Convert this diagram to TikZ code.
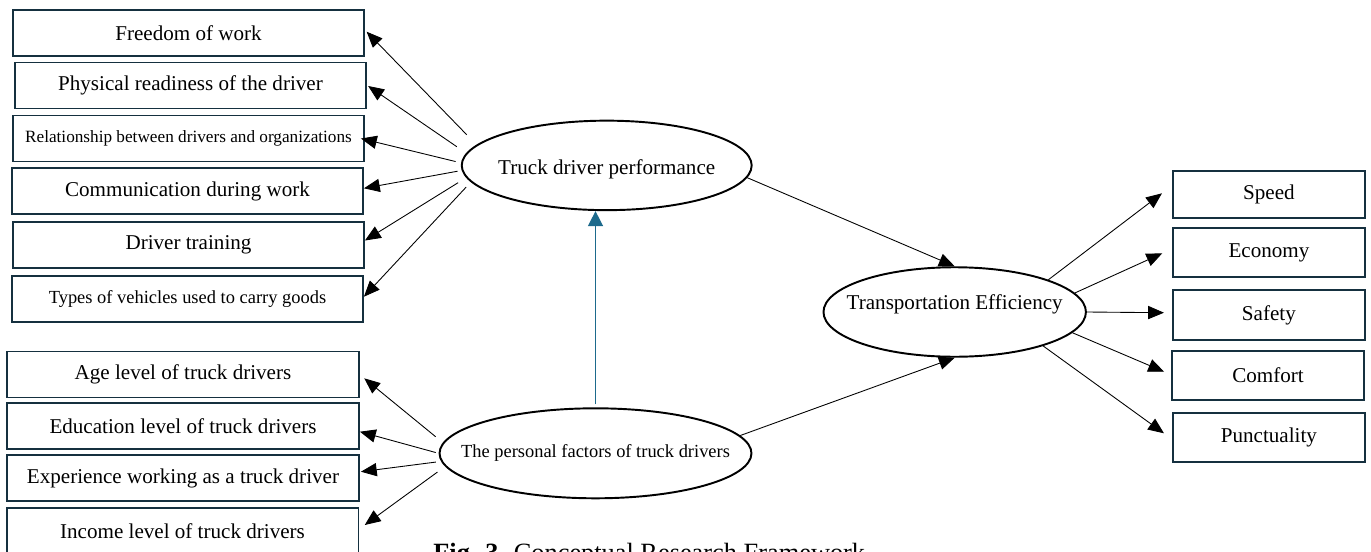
\documentclass[tikz,border=0pt]{standalone}
\usepackage{fontspec}
\setmainfont{Liberation Serif}
\usetikzlibrary{shapes.geometric,arrows.meta,calc}
\definecolor{boxc}{HTML}{15303F}
\definecolor{midc}{HTML}{1D6A8C}
\begin{document}
\begin{tikzpicture}[x=0.02cm,y=-0.02cm,
  twelve/.style={font=\fontsize{12}{14}\selectfont},
  lbox/.style={draw=boxc,line width=1.1pt,minimum width=7.02cm,minimum height=0.92cm,inner sep=0pt,twelve},
  rbox/.style={draw=boxc,line width=1.1pt,minimum width=3.84cm,minimum height=0.99cm,inner sep=0pt,twelve},
  ell/.style={draw,ellipse,line width=1.1pt,inner sep=0pt},
  arr/.style={-{Triangle[length=9pt,width=7.5pt]},line width=0.5pt},
  marr/.style={-{Triangle[length=8.5pt,width=8.5pt]},line width=0.8pt,draw=midc}]
\useasboundingbox (0,0) rectangle (1371,551);

% left upper boxes
\node[lbox] (b1) at (188.5,33) {Freedom of work};
\node[lbox] (b2) at (190.5,85.5) {Physical readiness of the driver};
\node[lbox,font=\fontsize{9.8}{11}\selectfont] (b3) at (188.5,138.5) {Relationship between drivers and organizations};
\node[lbox] (b4) at (187.5,191) {Communication during work};
\node[lbox] (b5) at (188.5,245) {Driver training};
\node[lbox,font=\fontsize{10.5}{12}\selectfont] (b6) at (187.5,299) {Types of vehicles used to carry goods};

% left lower boxes
\node[lbox,minimum width=7.04cm] (b7) at (183,374.5) {Age level of truck drivers};
\node[lbox,minimum width=7.04cm] (b8) at (183,426) {Education level of truck drivers};
\node[lbox,minimum width=7.04cm] (b9) at (183,478) {Experience working as a truck driver};
\node[lbox,minimum width=7.04cm] (b10) at (182.5,531) {Income level of truck drivers};

% right boxes
\node[rbox,minimum height=0.94cm] (s1) at (1268.9,194.7) {Speed};
\node[rbox] (s2) at (1268.9,252.5) {Economy};
\node[rbox] (s3) at (1268.9,315) {Safety};
\node[rbox] (s4) at (1268,375.3) {Comfort};
\node[rbox] (s5) at (1268.9,437.7) {Punctuality};

% ellipses
\node[ell,minimum width=5.8cm,minimum height=1.79cm,twelve] (tdp) at (606.7,165.4)
  {\makebox[0pt]{\raisebox{-0.08cm}[\height][\depth]{Truck driver performance}}};
\node[ell,minimum width=6.24cm,minimum height=1.8cm,font=\fontsize{10.5}{12}\selectfont] (pf) at (595.5,453.3)
  {\makebox[0pt]{The personal factors of truck drivers}};
\node[ell,minimum width=5.25cm,minimum height=1.79cm,twelve] (te) at (954.7,312)
  {\makebox[0pt]{\raisebox{0.16cm}[\height][\depth]{Transportation Efficiency}}};

% caption
\node[anchor=base west,inner sep=0pt,font=\fontsize{15}{18}\selectfont] (cap) at (433,561.5)
  {\textbf{Fig. 3.} Conceptual Research Framework};

% arrows from truck driver performance
\draw[arr,shorten <=0.28cm] (tdp.171) -- ($(b1.east)+(1.7,-1.3)$);
\draw[arr,shorten <=0.226cm] (tdp.175) -- ($(b2.east)+(1.2,0.5)$);
\draw[arr,shorten <=0.11cm] (tdp.179) -- ($(b3.east)+(-4,0)$);
\draw[arr,shorten <=0.084cm] (tdp.182) -- ($(b4.east)+(0,-2.7)$);
\draw[arr,shorten <=0.19cm] (tdp.185) -- ($(b5.east)+(0,-4.5)$);
\draw[arr,shorten <=0.138cm] (tdp.187) -- ($(b6.east)+(0,-2.3)$);

% arrows from personal factors
\draw[arr,shorten <=0.186cm] (pf.176) -- ($(b7.east)+(4.3,3.8)$);
\draw[arr,shorten <=0.058cm] (pf.180) -- ($(b8.east)+(0,5.7)$);
\draw[arr,shorten <=0.104cm] (pf.183) -- ($(b9.east)+(1,-6.3)$);
\draw[arr,shorten <=0.19cm] (pf.185) -- ($(b10.east)+(5.3,-6)$);

% middle arrow
\draw[marr,shorten <=0.06cm] (pf.north) -- (pf.north |- tdp.south);

% to transportation efficiency
\draw[arr] (tdp.355) -- (te.north);
\draw[arr] (pf.7) -- (te.south);

% from transportation efficiency
\draw[arr] (te.19) -- ($(s1.west)+(-10,-1.4)$);
\draw[arr] (te.9) -- ($(s2.west)+(-9.7,0.8)$);
\draw[arr] (te.east) -- ($(s3.west)+(-8,-2.3)$);
\draw[arr] (te.350) -- ($(s4.west)+(-7,-3.6)$);
\draw[arr] (te.339) -- ($(s5.west)+(-8,-4.4)$);
\end{tikzpicture}
\end{document}
